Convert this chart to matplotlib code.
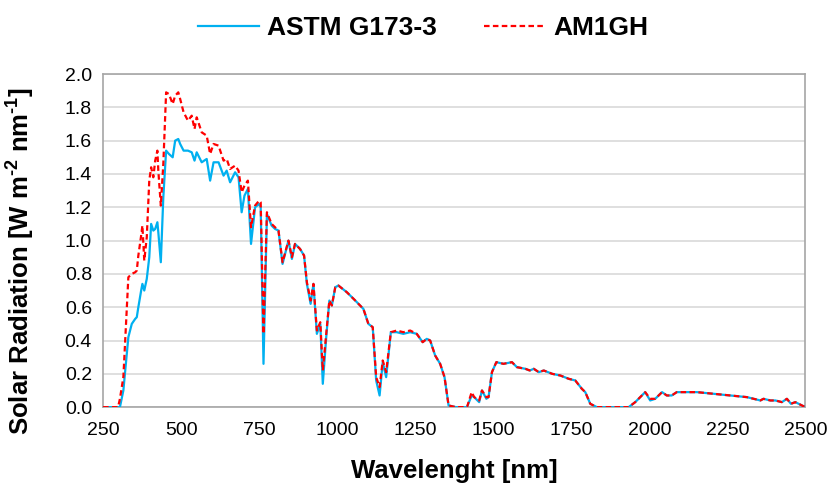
import matplotlib
matplotlib.use('Agg')
import matplotlib.pyplot as plt

# Wavelength grid (nm)
wavelength = [250, 280, 298, 304, 315, 331, 342, 353, 358, 363, 372, 376, 382, 390,
              398, 404, 411, 417, 424, 427, 435, 443, 452, 461, 473, 481, 491, 497,
              508, 522, 534, 543, 550, 566, 582, 593, 604, 620, 636, 646, 657, 673,
              684, 694, 703, 714, 724, 737, 750, 755, 764, 775, 790, 801, 812, 825,
              844, 855, 865, 881, 894, 903, 915, 924, 935, 946, 954, 965, 975, 983,
              994, 1004, 1031, 1058, 1084, 1100, 1114, 1125, 1136, 1146, 1157, 1172,
              1191, 1212, 1234, 1255, 1274, 1287, 1298, 1314, 1330, 1344, 1357, 1380,
              1416, 1431, 1439, 1455, 1464, 1478, 1485, 1496, 1510, 1533, 1560, 1576,
              1603, 1617, 1630, 1646, 1662, 1689, 1715, 1742, 1763, 1784, 1795, 1811,
              1832, 1900, 1934, 1955, 1971, 1987, 2003, 2019, 2041, 2056, 2072, 2088,
              2121, 2153, 2206, 2260, 2313, 2356, 2366, 2388, 2404, 2425, 2441, 2454,
              2468, 2489, 2500]

# ASTM G173-3 spectrum (W m-2 nm-1)
astm = [0, 0, 0, 0, 0.10, 0.42, 0.50, 0.53, 0.54, 0.60, 0.70, 0.74, 0.70, 0.77,
        0.90, 1.10, 1.06, 1.07, 1.11, 1.05, 0.87, 1.26, 1.54, 1.52, 1.50, 1.60, 1.61, 1.58,
        1.54, 1.54, 1.53, 1.48, 1.53, 1.47, 1.49, 1.36, 1.47, 1.47, 1.39, 1.42, 1.35, 1.41,
        1.38, 1.17, 1.27, 1.31, 0.98, 1.20, 1.22, 1.20, 0.26, 1.16, 1.09, 1.07, 1.06, 0.86,
        1.00, 0.89, 0.98, 0.95, 0.91, 0.74, 0.62, 0.74, 0.44, 0.50, 0.14, 0.42, 0.64, 0.61,
        0.72, 0.73, 0.69, 0.64, 0.59, 0.50, 0.48, 0.16, 0.07, 0.27, 0.18, 0.45,
        0.45, 0.44, 0.45, 0.44, 0.39, 0.41, 0.40, 0.31, 0.26, 0.18, 0.01, 0,
        0, 0.07, 0.06, 0.03, 0.10, 0.05, 0.06, 0.21, 0.27, 0.26, 0.27, 0.24,
        0.23, 0.22, 0.23, 0.21, 0.22, 0.20, 0.19, 0.17, 0.16, 0.11, 0.09, 0.02,
        0, 0, 0, 0.03, 0.06, 0.09, 0.04, 0.05, 0.09, 0.07, 0.07, 0.09,
        0.09, 0.09, 0.08, 0.07, 0.06, 0.04, 0.05, 0.04, 0.04, 0.03, 0.05, 0.02,
        0.03, 0.01, 0]

# AM1GH spectrum (W m-2 nm-1)
am1gh = [0, 0, 0, 0.05, 0.18, 0.78, 0.80, 0.81, 0.82, 0.91, 1.03, 1.09, 0.88, 1.02,
         1.36, 1.44, 1.38, 1.48, 1.54, 1.42, 1.21, 1.46, 1.89, 1.88, 1.82, 1.87, 1.89, 1.85,
         1.77, 1.72, 1.75, 1.67, 1.74, 1.65, 1.63, 1.52, 1.58, 1.57, 1.48, 1.49, 1.43, 1.45,
         1.42, 1.29, 1.33, 1.36, 1.08, 1.21, 1.24, 1.23, 0.44, 1.17, 1.10, 1.08, 1.06, 0.87,
         1.00, 0.90, 0.98, 0.95, 0.91, 0.75, 0.64, 0.74, 0.46, 0.51, 0.22, 0.44, 0.64, 0.61,
         0.72, 0.73, 0.69, 0.64, 0.59, 0.50, 0.48, 0.18, 0.12, 0.28, 0.21, 0.45,
         0.46, 0.45, 0.46, 0.44, 0.39, 0.41, 0.40, 0.31, 0.26, 0.18, 0.01, 0,
         0, 0.09, 0.06, 0.04, 0.10, 0.06, 0.06, 0.21, 0.27, 0.26, 0.27, 0.24,
         0.23, 0.22, 0.23, 0.21, 0.22, 0.20, 0.19, 0.17, 0.16, 0.11, 0.09, 0.02,
         0, 0, 0, 0.03, 0.06, 0.09, 0.05, 0.05, 0.09, 0.07, 0.07, 0.09,
         0.09, 0.09, 0.08, 0.07, 0.06, 0.04, 0.05, 0.04, 0.04, 0.03, 0.05, 0.02,
         0.03, 0.01, 0]

x_ticks = [250, 500, 750, 1000, 1250, 1500, 1750, 2000, 2250, 2500]
y_ticks = [0.0, 0.2, 0.4, 0.6, 0.8, 1.0, 1.2, 1.4, 1.6, 1.8, 2.0]


def main():
    plt.rcParams['font.family'] = ['Liberation Sans', 'DejaVu Sans']
    # bold superscripts with a plain hyphen, like the original
    plt.rcParams['mathtext.fontset'] = 'custom'
    plt.rcParams['mathtext.rm'] = 'Liberation Sans:bold'
    plt.rcParams['mathtext.default'] = 'rm'

    fig = plt.figure(figsize=(8.38, 4.87), dpi=100)
    ax = fig.add_axes([0.123, 0.164, 0.838, 0.684])

    ax.plot(wavelength, astm, color='#00B0F0', lw=1.6, label='ASTM G173-3', zorder=3)
    ax.plot(wavelength, am1gh, color='#FF0000', lw=1.6, ls=(0, (2.5, 1.5)),
            label='AM1GH', zorder=4)

    ax.set_xlim(250, 2500)
    ax.set_ylim(0, 2.0)
    ax.set_xticks(x_ticks)
    ax.set_yticks(y_ticks)
    ax.set_yticklabels(['%.1f' % v for v in y_ticks])
    ax.tick_params(length=0, labelsize=14)
    ax.tick_params(axis='x', pad=11)
    ax.tick_params(axis='y', pad=8)

    ax.grid(axis='y', color='#D9D9D9', lw=1.2)
    ax.set_axisbelow(True)
    for s in ax.spines.values():
        s.set_color('#A6A6A6')
        s.set_linewidth(1.2)

    ax.set_xlabel('Wavelenght [nm]', fontsize=18.5, fontweight='bold')
    ax.xaxis.set_label_coords(0.5, -0.155)
    ax.set_ylabel(r'Solar Radiation [W m$^{\text{-2}}$ nm$^{\text{-1}}$]',
                  fontsize=18.5, fontweight='bold')
    ax.yaxis.set_label_coords(-0.094, 0.44)

    fig.legend(loc='center', bbox_to_anchor=(0.505, 0.943), ncol=2, frameon=False,
               prop={'size': 19, 'weight': 'bold'}, handlelength=2.3,
               columnspacing=1.8, handletextpad=0.3)

    fig.savefig('out.png', dpi=100)


if __name__ == '__main__':
    main()
